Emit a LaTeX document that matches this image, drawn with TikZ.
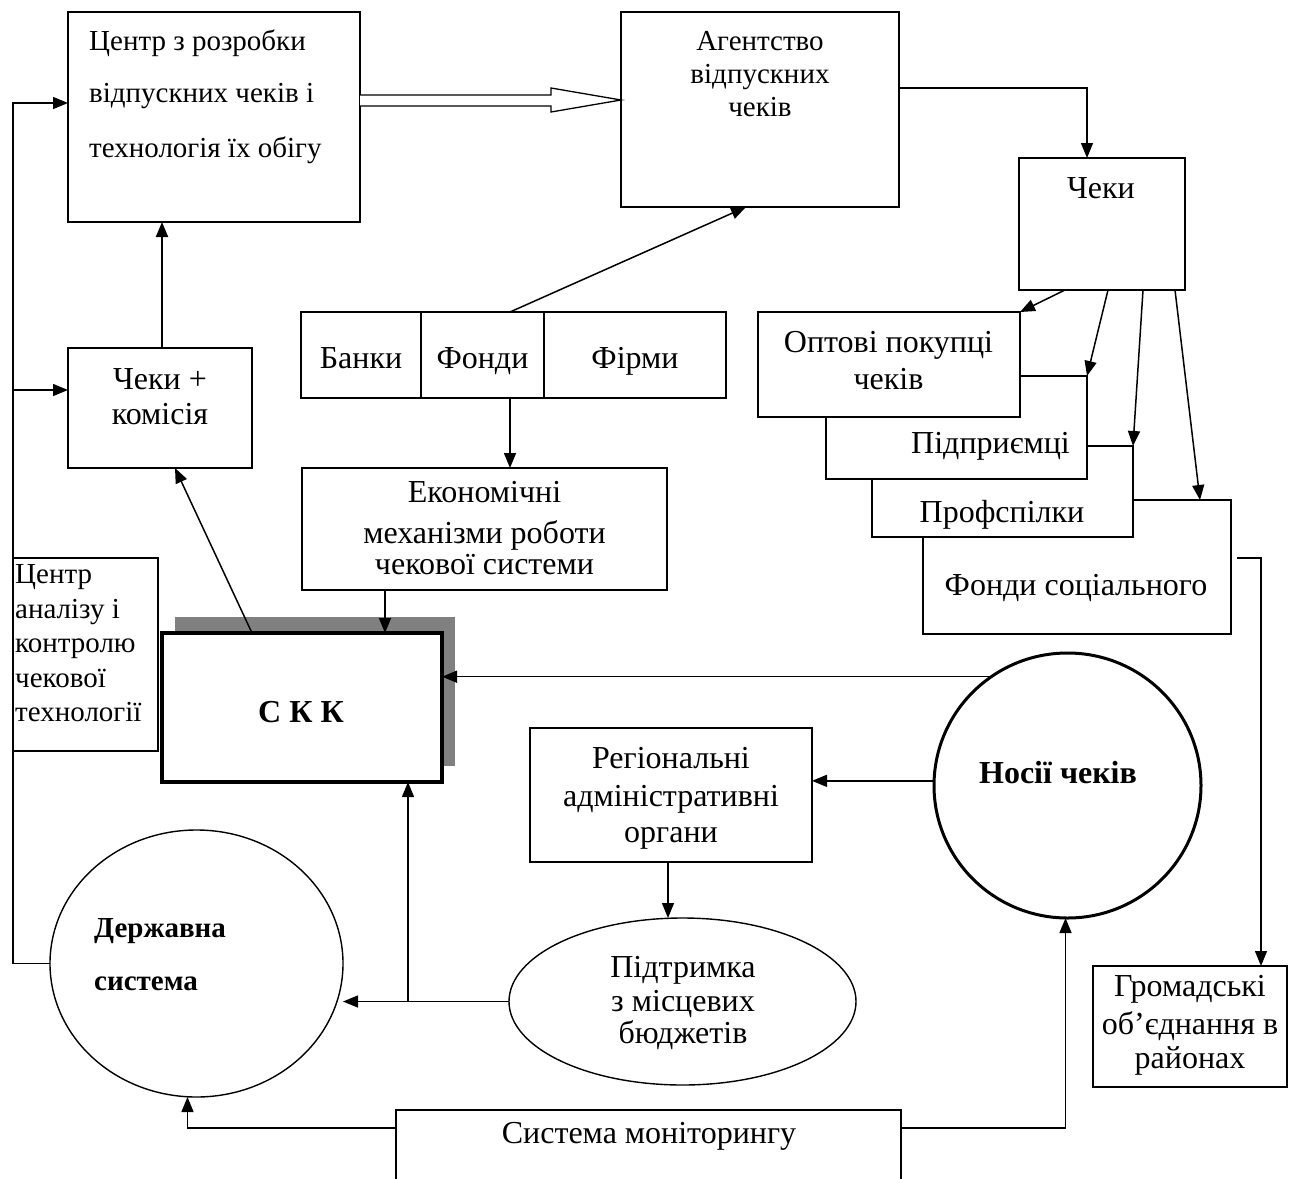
\documentclass[tikz,border=0pt]{standalone}
\usepackage{fontspec}
\setmainfont{Liberation Serif}
\usetikzlibrary{arrows.meta,shapes.geometric,calc,shadows}
\begin{document}
\begin{tikzpicture}[x=1pt,y=-1pt,
  box/.style={draw, line width=1.4pt, fill=white, rectangle, inner sep=0pt, outer sep=0pt, anchor=north west},
  oval/.style={draw, line width=1.4pt, ellipse, inner sep=0pt, outer sep=0pt},
  arr/.style={line width=1.5pt, -{Triangle[length=15pt,width=12pt]}},
  ln/.style={line width=1.5pt},
  t/.style={inner sep=0pt, anchor=base, font=\fontsize{32}{38}\selectfont},
  ts/.style={inner sep=0pt, anchor=base, font=\fontsize{29}{34}\selectfont},
  tb/.style={inner sep=0pt, anchor=base, font=\fontsize{32}{38}\selectfont\bfseries},
  tbs/.style={inner sep=0pt, anchor=base, font=\fontsize{29}{34}\selectfont\bfseries},
]
\useasboundingbox (0,0) rectangle (1293,1178);
\clip (0,0) rectangle (1293,1178);
\fill[white] (0,0) rectangle (1293,1178);

% ---------- boxes ----------
\node[box, minimum width=292, minimum height=210] (centr) at (68,12) {};
\node[box, minimum width=278, minimum height=195] (agency) at (621,12) {};
\node[box, minimum width=166, minimum height=132] (cheky) at (1019,158) {};
\node[box, minimum width=120, minimum height=86] (banky) at (301,312) {};
\node[box, minimum width=123, minimum height=86] (fondy) at (421,312) {};
\node[box, minimum width=182, minimum height=86] (firmy) at (544,312) {};
\node[box, minimum width=365, minimum height=122] (econ) at (302,468) {};
\node[box, minimum width=184, minimum height=120] (chkkom) at (68,348) {};
\node[box, minimum width=145, minimum height=193] (analiz) at (13,558) {};
\node[box, line width=4pt, minimum width=280, minimum height=149,
      drop shadow={shadow xshift=13pt, shadow yshift=16pt, fill=black!50, opacity=1}] (ckk) at (162,633) {};
\node[box, minimum width=282, minimum height=134] (region) at (530,728) {};
\node[box, minimum width=505, minimum height=100] (monit) at (396,1110) {};
\node[box, minimum width=194, minimum height=121] (hromad) at (1093,966) {};

% stacked groups of buyers, back to front
\node[box, minimum width=308, minimum height=134] (fondsoc) at (923,500) {};
\node[box, minimum width=261, minimum height=91] (prof) at (872,446) {};
\node[box, minimum width=261, minimum height=103] (pidpr) at (826,376) {};
\node[box, minimum width=262, minimum height=105] (opt) at (758,312) {};

% ---------- ovals ----------
\node[oval, minimum width=293, minimum height=267] (derzh) at (196.5,963.5) {};
\node[oval, minimum width=347, minimum height=167] (pidtr) at (682.5,1001.5) {};
\node[oval, line width=3pt, minimum width=267, minimum height=265] (nosii) at (1067.5,785.5) {};

% ---------- texts ----------
\node[ts, anchor=base west] (c1) at (89,50) {Центр з розробки};
\node[ts, anchor=base west] (c2) at (89,102) {відпускних чеків і};
\node[ts, anchor=base west] (c3) at (89,157) {технологія їх обігу};

\node[ts] (a1) at (760,50) {Агентство};
\node[ts] (a2) at (760,83) {відпускних};
\node[ts] (a3) at (760,116) {чеків};

\node[t] (ch1) at (1101,198) {Чеки};

\node[t] (b1) at (361,368) {Банки};
\node[t] (b2) at (482.5,368) {Фонди};
\node[t] (b3) at (635,368) {Фірми};

\node[t] (e1) at (484.5,502) {Економічні};
\node[t] (e2) at (484.5,543) {механізми роботи};
\node[t] (e3) at (484.5,574) {чекової системи};

\node[t] (k1) at (160,389) {Чеки +};
\node[t] (k2) at (160,424) {комісія};

\node[ts, anchor=base west] (n1) at (15,583) {Центр};
\node[ts, anchor=base west] (n2) at (15,618) {аналізу і};
\node[ts, anchor=base west] (n3) at (15,652) {контролю};
\node[ts, anchor=base west] (n4) at (15,687) {чекової};
\node[ts, anchor=base west] (n5) at (15,721) {технології};

\node[tb] (s1) at (301,722) {С К К};

\node[t] (r1) at (671,768) {Регіональні};
\node[t] (r2) at (671,806) {адміністративні};
\node[t] (r3) at (671,842) {органи};

\node[t] (p1) at (683,977) {Підтримка};
\node[t] (p2) at (683,1011) {з місцевих};
\node[t] (p3) at (683,1043) {бюджетів};

\node[tb] (h1) at (1058,783) {Носії чеків};

\node[tbs, anchor=base west] (d1) at (94,937) {Державна};
\node[tbs, anchor=base west] (d2) at (94,990) {система};

\node[t] (m1) at (649,1143) {Система моніторингу};

\node[t] (g1) at (1190,996) {Громадські};
\node[t] (g2) at (1190,1034) {об’єднання в};
\node[t] (g3) at (1190,1068) {районах};

\node[t] (o1) at (888.5,352) {Оптові покупці};
\node[t] (o2) at (888.5,389) {чеків};
\node[t] (q1) at (990.5,453) {Підприємці};
\node[t] (f1) at (1002,522) {Профспілки};
\node[t] (s2) at (1076,595) {Фонди соціального};

% ---------- connectors ----------
% hollow double arrow between the two top boxes
\coordinate (dh) at (551,100);
\draw[line width=1.3pt, line join=miter, fill=white]
  (centr.east |- 0,95) -- (dh |- 0,95) -- (dh |- 0,88) -- (agency.west |- dh)
  -- (dh |- 0,112) -- (dh |- 0,106) -- (centr.east |- 0,106);

\draw[arr, line width=1.3pt] (agency.east |- 0,88) -| ([xshift=-15pt]cheky.north);

\coordinate (fu) at ([xshift=27.5pt]fondy.north);
\coordinate (fd) at ([xshift=27.5pt]fondy.south);
\draw[arr] (fu) -- ([xshift=-14pt]agency.south);
\draw[arr] (fd) -- (fd |- econ.north);

\coordinate (ed) at ([xshift=-99.5pt]econ.south);
\draw[arr] (ed) -- (ed |- ckk.north);

\draw[arr] ([xshift=-50pt]ckk.north) -- ([xshift=15pt]chkkom.south);
\draw[arr, line width=2pt] ([xshift=2pt]chkkom.north) -- ([xshift=2pt]chkkom.north |- centr.south);

% feedback loop on the left
\draw[arr] (derzh.west) -- (analiz.west |- derzh.west) -- (analiz.west |- 0,103) -- ([yshift=14pt]centr.west);
\draw[arr] (analiz.west |- 0,390) -- ([yshift=18pt]chkkom.west);

% holders of cheques
\draw[arr] (nosii.125) -- (nosii.125 -| ckk.east);
\draw[arr] (nosii.178) -- (nosii.178 -| region.east);
\coordinate (rd) at ([xshift=-3pt]region.south);
\draw[arr] (rd) -- (rd |- pidtr.north);

% local budgets
\coordinate (ck) at ([xshift=106pt]ckk.south);
\draw[arr] (pidtr.west) -- (pidtr.west -| derzh.east);
\draw[arr] (ck |- pidtr.west) -- (ck);

% monitoring system
\draw[arr] ([yshift=-18pt]monit.north west) -| ([xshift=-9pt]derzh.south);
\draw[arr] ([yshift=-18pt]monit.north east) -| ([xshift=-2pt]nosii.south);

% social funds to district associations
\draw[arr, line width=1.3pt] ([xshift=6pt,yshift=9pt]fondsoc.east) -| ([xshift=71pt]hromad.north);

% cheques distributed to buyers
\draw[arr] ([xshift=-37pt]cheky.south) -- (opt.north east);
\draw[arr] ([xshift=6pt]cheky.south) -- (pidpr.north east);
\draw[arr] ([xshift=41pt]cheky.south) -- (prof.north east);
\draw[arr] ([xshift=73pt]cheky.south) -- ([xshift=-31pt]fondsoc.north east);
\end{tikzpicture}
\end{document}
